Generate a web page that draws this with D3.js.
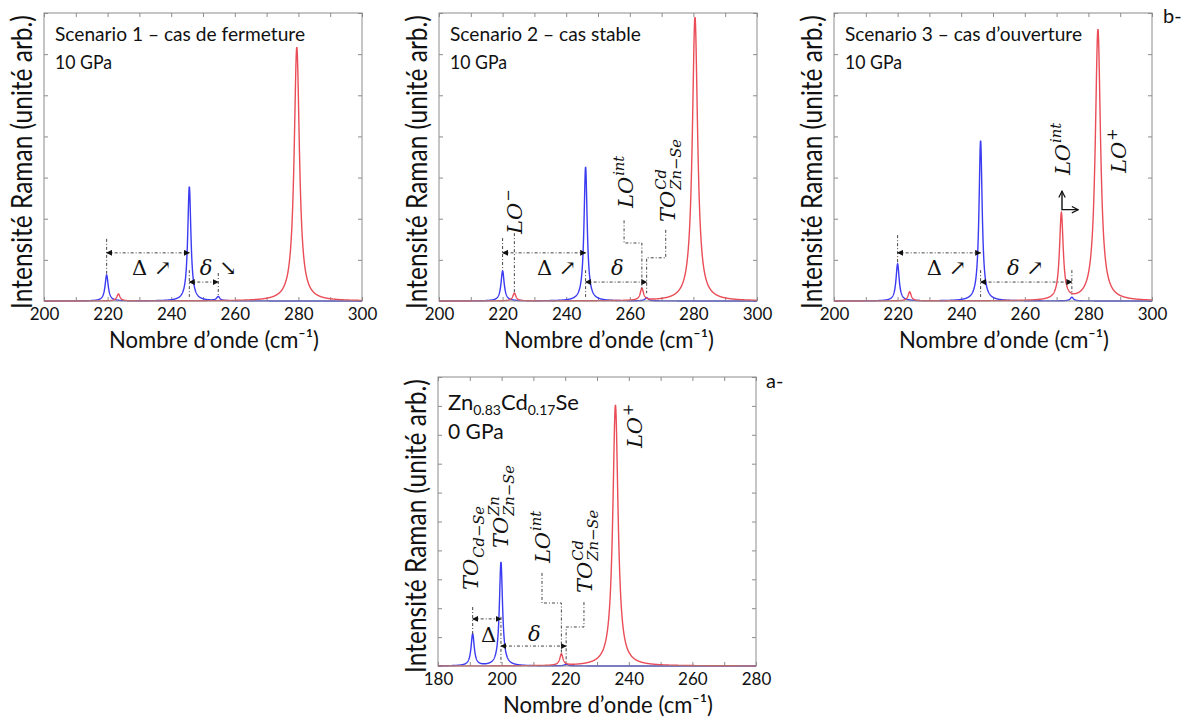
<!DOCTYPE html>
<html><head><meta charset="utf-8">
<script src="https://cdn.jsdelivr.net/npm/d3@7"></script>
<style>body{margin:0;background:#fff} svg{display:block}</style>
</head><body>
<svg id="chart" width="1190" height="726"></svg>
<script>
// ================= DATA =================
// x tick labels
const xTicksHigh = [200, 220, 240, 260, 280, 300];
const xTicksLow  = [180, 200, 220, 240, 260, 280];
// Raman peaks: [position (cm-1), height (arb. units), half width (cm-1)]
const scen1Blue = [[219.7, 0.63, 0.6], [245.7, 2.78, 0.6], [254.8, 0.10, 0.6]];
const scen1Red  = [[223.4, 0.17, 0.6], [279.5, 6.17, 1.0]];
const scen2Blue = [[220.0, 0.73, 0.6], [246.1, 3.26, 0.6], [265.3, 0.08, 0.6]];
const scen2Red  = [[223.7, 0.19, 0.6], [263.8, 0.29, 0.6], [280.5, 6.90, 1.0]];
const scen3Blue = [[220.0, 0.90, 0.6], [246.1, 3.90, 0.6], [274.8, 0.09, 0.6]];
const scen3Red  = [[223.8, 0.22, 0.6], [271.5, 2.10, 0.7], [283.0, 6.60, 1.0]];
const refBlue   = [[190.9, 1.10, 0.6], [199.8, 3.60, 0.6], [220.3, 0.06, 0.6]];
const refRed    = [[218.8, 0.39, 0.6], [235.8, 9.03, 1.0]];
// panel texts
const titles = ["Scenario 1 \u2013 cas de fermeture", "Scenario 2 \u2013 cas stable", "Scenario 3 \u2013 cas d\u2019ouverture"];
const pressures = ["10 GPa", "10 GPa", "10 GPa", "0 GPa"];
const xLabel = "Nombre d\u2019onde (cm\u207B\u00B9)";
const yLabel = "Intensit\u00e9 Raman (unit\u00e9 arb.)";

// ================= LAYOUT =================
const svg = d3.select("#chart");
const BLUE = "#3b3bf2", RED = "#ea4d57", BOX = "#8c8c8c", ANN = "#444";
const panels = [
  {left: 44,  top: 13,  w: 318, h: 288, xd: [200, 300], ymax: 7,  ticks: xTicksHigh, blue: scen1Blue, red: scen1Red, title: titles[0], tw: 250},
  {left: 439, top: 13,  w: 318, h: 288, xd: [200, 300], ymax: 7,  ticks: xTicksHigh, blue: scen2Blue, red: scen2Red, title: titles[1], tw: 191},
  {left: 834, top: 13,  w: 318, h: 288, xd: [200, 300], ymax: 7,  ticks: xTicksHigh, blue: scen3Blue, red: scen3Red, title: titles[2], tw: 237},
  {left: 438, top: 377, w: 318, h: 289, xd: [180, 280], ymax: 10, ticks: xTicksLow,  blue: refBlue,   red: refRed,   title: null, tw: 0}
];

const defs = svg.append("defs");
defs.append("marker").attr("id", "tri").attr("viewBox", "0 0 10 10").attr("refX", 9).attr("refY", 5)
  .attr("markerWidth", 6).attr("markerHeight", 6).attr("markerUnits", "userSpaceOnUse")
  .attr("orient", "auto-start-reverse")
  .append("path").attr("d", "M0,0 L10,5 L0,10 z").attr("fill", "#111");
defs.append("marker").attr("id", "chev").attr("viewBox", "0 0 10 10").attr("refX", 9).attr("refY", 5)
  .attr("markerWidth", 8).attr("markerHeight", 8).attr("markerUnits", "userSpaceOnUse")
  .attr("orient", "auto-start-reverse")
  .append("path").attr("d", "M1,1 L9,5 L1,9").attr("fill", "none").attr("stroke", "#111").attr("stroke-width", 1.5);

function spectrum(peaks, xd) {
  const pts = [];
  for (let x = xd[0]; x <= xd[1] + 1e-9; x += 0.05) {
    let y = 0;
    for (const [c, hgt, g] of peaks) y += hgt * g * g / ((x - c) * (x - c) + g * g);
    pts.push([x, y]);
  }
  return pts;
}

const built = panels.map(p => {
  const g = svg.append("g");
  const x = d3.scaleLinear().domain(p.xd).range([p.left, p.left + p.w]);
  const y = d3.scaleLinear().domain([0, p.ymax]).range([p.top + p.h, p.top]);
  const minor = d3.range(p.xd[0], p.xd[1] + 1, 10);
  const yt = d3.range(0, p.ymax + 1, 1);
  // ticks, inward on all four sides
  g.append("g").attr("transform", `translate(0,${p.top + p.h})`)
    .call(d3.axisTop(x).tickValues(minor).tickSize(4).tickFormat(""))
    .call(a => { a.select(".domain").remove(); a.selectAll("line").attr("stroke", BOX); });
  g.append("g").attr("transform", `translate(0,${p.top})`)
    .call(d3.axisBottom(x).tickValues(minor).tickSize(4).tickFormat(""))
    .call(a => { a.select(".domain").remove(); a.selectAll("line").attr("stroke", BOX); });
  g.append("g").attr("transform", `translate(${p.left},0)`)
    .call(d3.axisRight(y).tickValues(yt).tickSize(4).tickFormat(""))
    .call(a => { a.select(".domain").remove(); a.selectAll("line").attr("stroke", BOX); });
  g.append("g").attr("transform", `translate(${p.left + p.w},0)`)
    .call(d3.axisLeft(y).tickValues(yt).tickSize(4).tickFormat(""))
    .call(a => { a.select(".domain").remove(); a.selectAll("line").attr("stroke", BOX); });
  // tick labels
  g.append("g").attr("transform", `translate(0,${p.top + p.h})`)
    .call(d3.axisBottom(x).tickValues(p.ticks).tickSize(0).tickPadding(0).tickFormat(d3.format("d")))
    .call(a => {
      a.select(".domain").remove();
      a.selectAll("text").attr("y", 19).attr("dy", 0).attr("font-family", "Lato").attr("font-size", 17).attr("fill", "#111");
    });
  // spectra (red drawn on top)
  const line = d3.line().x(d => x(d[0])).y(d => y(d[1]));
  g.append("path").datum(spectrum(p.blue, p.xd)).attr("d", line).attr("fill", "none").attr("stroke", BLUE).attr("stroke-width", 1.4);
  g.append("path").datum(spectrum(p.red, p.xd)).attr("d", line).attr("fill", "none").attr("stroke", RED).attr("stroke-width", 1.4);
  // box
  g.append("rect").attr("x", p.left).attr("y", p.top).attr("width", p.w).attr("height", p.h)
    .attr("fill", "none").attr("stroke", BOX).attr("stroke-width", 1);
  // axis labels
  g.append("text").attr("x", p.left + 170).attr("y", p.top + p.h + 47).attr("text-anchor", "middle")
    .attr("font-family", "Lato").attr("font-size", 23).attr("fill", "#111")
    .attr("textLength", 210).attr("lengthAdjust", "spacingAndGlyphs").text(xLabel);
  const yl = g.append("text").attr("text-anchor", "middle").attr("font-family", "Lato").attr("font-size", 22)
    .attr("fill", "#111").text(yLabel);
  const len = yl.node().getComputedTextLength();
  yl.attr("transform", `translate(${p.left - 12},${p.top + 149}) rotate(-90) scale(${294 / len},1.27)`);
  return {g, x, y, p};
});

// titles
built.forEach((b, i) => {
  const p = b.p;
  if (p.title) {
    b.g.append("text").attr("x", p.left + 11).attr("y", p.top + 28).attr("font-family", "Lato").attr("font-size", 20)
      .attr("fill", "#111").attr("textLength", p.tw).attr("lengthAdjust", "spacingAndGlyphs").text(p.title);
    b.g.append("text").attr("x", p.left + 11).attr("y", p.top + 56).attr("font-family", "Lato").attr("font-size", 20)
      .attr("fill", "#111").attr("textLength", 57).attr("lengthAdjust", "spacingAndGlyphs").text(pressures[i]);
  } else {
    const t = b.g.append("text").attr("x", p.left + 10).attr("y", p.top + 33).attr("font-family", "Lato").attr("font-size", 22).attr("fill", "#111");
    t.append("tspan").text("Zn");
    t.append("tspan").attr("font-size", 14).attr("dy", 5).text("0.83");
    t.append("tspan").attr("dy", -5).text("Cd");
    t.append("tspan").attr("font-size", 14).attr("dy", 5).text("0.17");
    t.append("tspan").attr("dy", -5).text("Se");
    b.g.append("text").attr("x", p.left + 10).attr("y", p.top + 62).attr("font-family", "Lato").attr("font-size", 21)
      .attr("fill", "#111").text(pressures[i]);
  }
});
svg.append("text").attr("x", 1163).attr("y", 23).attr("font-family", "Lato").attr("font-size", 20).attr("fill", "#111").text("b-");
svg.append("text").attr("x", 766).attr("y", 388).attr("font-family", "Lato").attr("font-size", 20).attr("fill", "#111").text("a-");

// ================= ANNOTATIONS (data coordinates) =================
function dash(b, pts) {
  b.g.append("path").attr("d", d3.line().x(d => b.x(d[0])).y(d => b.y(d[1]))(pts))
    .attr("fill", "none").attr("stroke", ANN).attr("stroke-width", 1).attr("stroke-dasharray", "3,2,1,2");
}
function dblArrow(b, x1, x2, yv) {
  b.g.append("line").attr("x1", b.x(x1)).attr("x2", b.x(x2)).attr("y1", b.y(yv)).attr("y2", b.y(yv))
    .attr("stroke", ANN).attr("stroke-width", 1).attr("stroke-dasharray", "3,2,1,2")
    .attr("marker-start", "url(#tri)").attr("marker-end", "url(#tri)");
}
function sym(b, xv, yv, parts, size) {
  const t = b.g.append("text").attr("x", b.x(xv)).attr("y", b.y(yv)).attr("font-family", "DejaVu Serif")
    .attr("font-size", size).attr("fill", "#111");
  parts.forEach(([s, it]) => t.append("tspan").attr("font-style", it ? "italic" : "normal").text(s));
}
function mathLabel(b, xv, yv, base, sup, sub, size) {
  const grp = b.g.append("g").attr("transform", `translate(${b.x(xv)},${b.y(yv)}) rotate(-90)`);
  const t = grp.append("text").attr("font-family", "DejaVu Serif").attr("font-style", "italic")
    .attr("font-size", size).attr("fill", "#111").text(base);
  const w = t.node().getComputedTextLength();
  if (sup) grp.append("text").attr("x", w + 1).attr("y", -size * 0.42).attr("font-family", "DejaVu Serif")
    .attr("font-style", "italic").attr("font-size", size * 0.7).attr("fill", "#111").text(sup);
  if (sub) grp.append("text").attr("x", w + 1).attr("y", size * 0.3).attr("font-family", "DejaVu Serif")
    .attr("font-style", "italic").attr("font-size", size * 0.7).attr("fill", "#111").text(sub);
}
const [b1, b2, b3, b4] = built;
const FS = 21;

// Scenario 1
dash(b1, [[219.7, 1.51], [219.7, 0.63]]);
dblArrow(b1, 219.7, 245.7, 1.17);
dash(b1, [[245.7, 0.75], [245.7, 0.1]]);
dblArrow(b1, 245.7, 254.8, 0.46);
dash(b1, [[254.8, 0.68], [254.8, 0.1]]);
sym(b1, 227.7, 0.63, [["\u0394 \u2197", false]], FS);
sym(b1, 249.0, 0.63, [["\u03b4", true], [" \u2198", false]], FS);

// Scenario 2
dash(b2, [[220.0, 1.53], [220.0, 0.75]]);
dash(b2, [[223.7, 1.65], [223.7, 0.19]]);
dblArrow(b2, 220.0, 246.1, 1.17);
dash(b2, [[246.1, 0.75], [246.1, 0.1]]);
dblArrow(b2, 246.1, 265.3, 0.46);
dash(b2, [[258.2, 1.96], [258.2, 1.41], [263.8, 1.41], [263.8, 0.27]]);
dash(b2, [[271.3, 1.73], [271.3, 1.05], [265.3, 1.05], [265.3, 0.19]]);
sym(b2, 230.8, 0.63, [["\u0394 \u2197", false]], FS);
sym(b2, 254.1, 0.63, [["\u03b4", true]], FS);
mathLabel(b2, 226.1, 1.63, "LO", "\u2212", null, FS);
mathLabel(b2, 261.0, 2.26, "LO", "int", null, FS);
mathLabel(b2, 274.2, 1.92, "TO", "Cd", "Zn\u2212Se", FS);

// Scenario 3
dash(b3, [[220.0, 1.60], [220.0, 0.90]]);
dblArrow(b3, 220.0, 246.1, 1.17);
dash(b3, [[246.1, 0.75], [246.1, 0.1]]);
dblArrow(b3, 246.1, 274.8, 0.46);
dash(b3, [[274.8, 0.75], [274.8, 0.15]]);
sym(b3, 229.2, 0.63, [["\u0394 \u2197", false]], FS);
sym(b3, 254.4, 0.63, [["\u03b4", true], [" \u2197", false]], FS);
mathLabel(b3, 274.2, 3.06, "LO", "int", null, FS);
mathLabel(b3, 291.8, 3.11, "LO", "+", null, FS);
b3.g.append("path")
  .attr("d", d3.line().x(d => b3.x(d[0])).y(d => b3.y(d[1]))([[271.7, 2.67], [271.7, 2.22], [276.8, 2.22]]))
  .attr("fill", "none").attr("stroke", "#111").attr("stroke-width", 1.4)
  .attr("marker-start", "url(#chev)").attr("marker-end", "url(#chev)");

// Zn0.83Cd0.17Se reference
dash(b4, [[190.9, 2.04], [190.9, 1.10]]);
dblArrow(b4, 190.9, 199.8, 1.63);
dash(b4, [[199.8, 1.70], [199.8, 0.1]]);
dblArrow(b4, 199.8, 220.3, 0.69);
dash(b4, [[212.7, 3.22], [212.7, 2.18], [218.8, 2.18], [218.8, 0.38]]);
dash(b4, [[225.9, 2.21], [225.9, 1.35], [220.3, 1.35], [220.3, 0.1]]);
sym(b4, 193.5, 0.83, [["\u0394", false]], FS);
sym(b4, 208.3, 0.87, [["\u03b4", true]], FS);
mathLabel(b4, 192.6, 2.63, "TO", null, "Cd\u2212Se", FS);
mathLabel(b4, 202.0, 4.08, "TO", "Zn", "Zn\u2212Se", FS);
mathLabel(b4, 215.2, 3.56, "LO", "int", null, FS);
mathLabel(b4, 228.4, 2.53, "TO", "Cd", "Zn\u2212Se", FS);
mathLabel(b4, 244.2, 7.54, "LO", "+", null, FS);
</script>
</body></html>
